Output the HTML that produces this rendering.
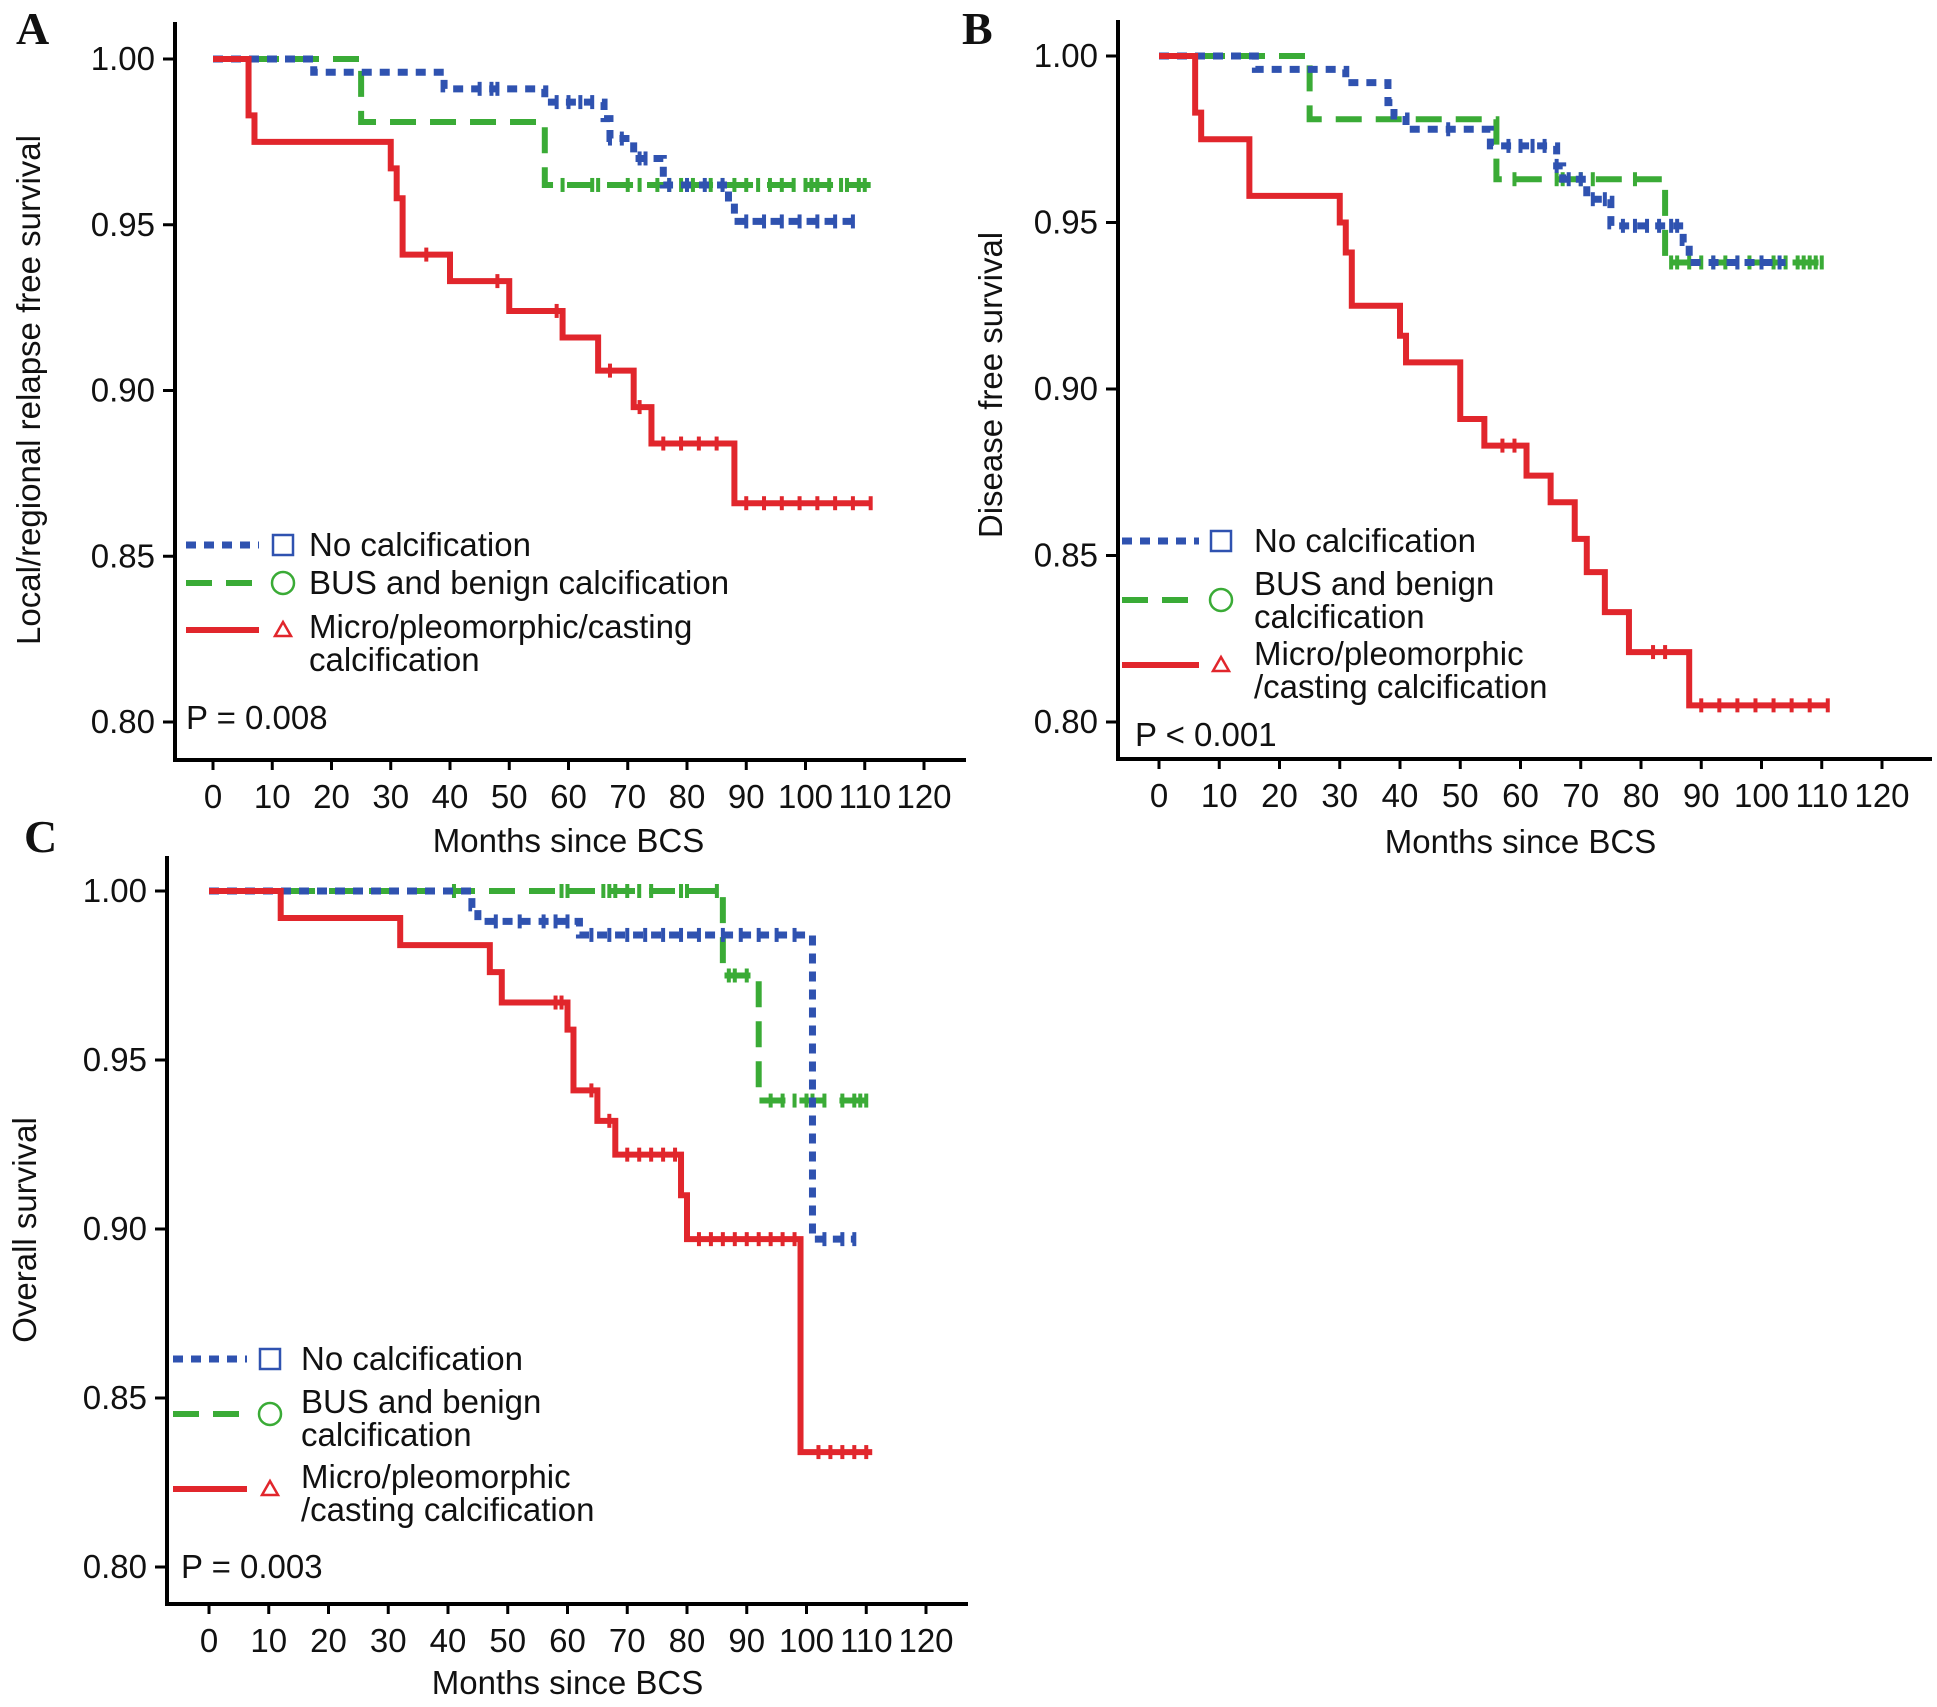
<!DOCTYPE html>
<html><head><meta charset="utf-8"><style>
html,body{margin:0;padding:0;background:#fff;}
svg{display:block;font-family:"Liberation Sans",Arial,sans-serif;}
</style></head><body>
<svg id="fig" width="1937" height="1707" viewBox="0 0 1937 1707"></svg>
<script>
// ---- Panel A data ----
const A_red_t=[0,6,7,30,31,32,40,50,59,65,71,74,88];
const A_red_s=[1,0.983,0.975,0.967,0.958,0.941,0.933,0.924,0.916,0.906,0.895,0.884,0.866];
const A_red_end=111;
const A_blue_t=[0,17,39,56,66,67,71,76,87,88];
const A_blue_s=[1,0.996,0.991,0.987,0.982,0.976,0.970,0.962,0.957,0.951];
const A_blue_end=108;
const A_green_t=[0,25,56];
const A_green_s=[1,0.981,0.962];
const A_green_end=111;
const A_red_c=[36,48,58,67,72,76,79,82,85,90,93,96,99,102,105,108,111];
const A_blue_c=[45,47,48,58,60,62,64,67,69,72,73,77,80,83,86,90,93,96,99,102,105,108];
const A_green_c=[59,64,65,70,72,75,77,79,81,84,86,88,90,92,94,96,98,100,101,102,104,106,107,109,110];
// ---- Panel B data ----
const B_red_t=[0,6,7,15,30,31,32,40,41,50,54,61,65,69,71,74,78,88];
const B_red_s=[1,0.983,0.975,0.958,0.950,0.941,0.925,0.916,0.908,0.891,0.883,0.874,0.866,0.855,0.845,0.833,0.821,0.805];
const B_red_end=111;
const B_blue_t=[0,16,31,38,39,41,55,66,67,71,75,87,88];
const B_blue_s=[1,0.996,0.992,0.986,0.982,0.978,0.973,0.967,0.963,0.957,0.949,0.944,0.938];
const B_blue_end=104;
const B_green_t=[0,25,56,84];
const B_green_s=[1,0.981,0.963,0.938];
const B_green_end=110;
const B_red_c=[57,59,82,84,90,93,96,99,102,105,108,111];
const B_blue_c=[48,58,60,62,64,66,68,70,72,74,77,79,81,83,85,86,92,96,100,103];
const B_green_c=[59,66,67,70,72,79,85,86,88,90,92,94,96,98,100,102,104,106,107,108,109,110];
// ---- Panel C data ----
const C_red_t=[0,12,32,47,49,60,61,65,68,79,80,99];
const C_red_s=[1,0.992,0.984,0.976,0.967,0.959,0.941,0.932,0.922,0.910,0.897,0.834];
const C_red_end=111;
const C_blue_t=[0,44,45,62,101];
const C_blue_s=[1,0.995,0.991,0.987,0.897];
const C_blue_end=108;
const C_green_t=[0,86,92];
const C_green_s=[1,0.975,0.938];
const C_green_end=110;
const C_red_c=[58,59,64,67,70,72,74,76,78,82,84,86,88,90,92,94,96,98,102,104,106,108,110];
const C_blue_c=[48,52,56,58,60,64,67,70,73,76,79,82,86,89,92,95,98,103,106,108];
const C_green_c=[41,59,60,66,67,68,70,72,74,79,80,85,87,88,90,94,96,98,100,101,103,106,108,109,110];
const xTicks=[0,10,20,30,40,50,60,70,80,90,100,110,120];
const yTicks=[1.00,0.95,0.90,0.85,0.80];

const NS="http://www.w3.org/2000/svg";
const svg=document.getElementById('fig');
const BLUE="#2f52b0",GREEN="#3aab36",RED="#e1262c";
const FS=33;
function mk(tag,attrs,parent){const e=document.createElementNS(NS,tag);for(const k in attrs)e.setAttribute(k,attrs[k]);(parent||svg).appendChild(e);return e;}

function panel(cfg){
  const g=mk('g',{});
  
  
  const xs=t=>cfg.x0+(t/120)*(cfg.x120-cfg.x0);
  const ys=v=>cfg.y1+(1-v)/0.2*(cfg.y08-cfg.y1);
  const ya=mk('line',{x1:cfg.ax,y1:cfg.atop,x2:cfg.ax,y2:cfg.ay+2,stroke:'#000','stroke-width':4},g);
  
  const xa=mk('line',{x1:cfg.ax-2,y1:cfg.ay,x2:cfg.aright,y2:cfg.ay,stroke:'#000','stroke-width':4},g);
  
  xTicks.forEach(t=>{
    mk('line',{x1:xs(t),y1:cfg.ay,x2:xs(t),y2:cfg.ay+10,stroke:'#000','stroke-width':3},g);
    const tx=mk('text',{x:xs(t),y:cfg.ay+48,'font-size':FS,'text-anchor':'middle',fill:'#111'},g);
    tx.textContent=t;
    
  });
  yTicks.forEach(v=>{
    mk('line',{x1:cfg.ax-12,y1:ys(v),x2:cfg.ax,y2:ys(v),stroke:'#000','stroke-width':3},g);
    const tx=mk('text',{x:cfg.ax-20,y:ys(v)+11,'font-size':FS,'text-anchor':'end',fill:'#111'},g);
    tx.textContent=v.toFixed(2);
    
  });
  const xt=mk('text',{x:(xs(0)+xs(120))/2,y:cfg.xtitleY,'font-size':FS,'text-anchor':'middle',fill:'#111'},g);
  xt.textContent='Months since BCS';
  
  const yt=mk('text',{x:0,y:0,'font-size':FS,'text-anchor':'middle',fill:'#111',transform:`translate(${cfg.ytitleX},${cfg.ytitleY}) rotate(-90)`},g);
  yt.textContent=cfg.ytitle;
  
  const lt=mk('text',{x:cfg.letterX,y:cfg.letterY,'font-size':46,'font-weight':'bold','font-family':'"Liberation Serif",serif',fill:'#111'},g);
  lt.textContent=cfg.id.toUpperCase();
  
  const styles={
    blue:{c:BLUE,w:7,d:'10,8'},
    green:{c:GREEN,w:6,d:'26,14'},
    red:{c:RED,w:6,d:'none'}
  };
  ['green','blue','red'].forEach(k=>{
    const s=cfg.series[k],st=styles[k];
    let d=`M${xs(s.t[0])},${ys(s.s[0])}`;
    for(let i=1;i<s.t.length;i++){d+=` H${xs(s.t[i])} V${ys(s.s[i])}`;}
    d+=` H${xs(s.end)}`;
    const p=mk('path',{d:d,fill:'none',stroke:st.c,'stroke-width':st.w,'stroke-dasharray':st.d},g);
    
    
    s.c.forEach(ct=>{
      let v=s.s[0];
      for(let i=0;i<s.t.length;i++){if(s.t[i]<=ct)v=s.s[i];}
      const m=mk('rect',{x:xs(ct)-2,y:ys(v)-7,width:4,height:14,fill:st.c},g);
      
      
    });
  });
  const L=cfg.legend;
  const items=[
    {k:'blue',y:L.y[0],lines:['No calcification'],ly:L.y[0]},
    {k:'green',y:L.y[1],lines:L.green,ly:L.ly[1]},
    {k:'red',y:L.y[2],lines:L.red,ly:L.ly[2]}
  ];
  items.forEach(it=>{
    const st=styles[it.k];
    const lg=mk('g',{},g);
    
    
    mk('line',{x1:L.x1,y1:it.ly,x2:L.x2,y2:it.ly,stroke:st.c,'stroke-width':st.w,'stroke-dasharray':st.d},lg);
    if(it.k==='blue')mk('rect',{x:L.mx-10,y:it.ly-10,width:20,height:20,fill:'none',stroke:st.c,'stroke-width':2.5},lg);
    if(it.k==='green')mk('circle',{cx:L.mx,cy:it.ly,r:11,fill:'none',stroke:st.c,'stroke-width':2.5},lg);
    if(it.k==='red')mk('path',{d:`M${L.mx-8},${it.ly+6} L${L.mx+8},${it.ly+6} L${L.mx},${it.ly-8} Z`,fill:'none',stroke:st.c,'stroke-width':2.5},lg);
    it.lines.forEach((ln,i)=>{
      const t=mk('text',{x:L.tx,y:it.y+11+i*33,'font-size':FS,fill:'#111'},lg);
      t.textContent=ln;
    });
  });
  const pt=mk('text',{x:cfg.px,y:cfg.py,'font-size':FS,fill:'#111'},g);
  pt.textContent=cfg.ptext;
  
}

panel({id:'a',x0:213,x120:924,y1:59,y08:722,ax:175,ay:760,atop:22,aright:966,xtitleY:852,
  ytitle:'Local/regional relapse free survival',ytitleX:40,ytitleY:390,letterX:16,letterY:44,
  series:{red:{t:A_red_t,s:A_red_s,end:A_red_end,c:A_red_c},blue:{t:A_blue_t,s:A_blue_s,end:A_blue_end,c:A_blue_c},green:{t:A_green_t,s:A_green_s,end:A_green_end,c:A_green_c}},
  legend:{x1:186,x2:259,mx:283,tx:309,y:[545,583,627],ly:[545,583,630],green:['BUS and benign calcification'],red:['Micro/pleomorphic/casting','calcification']},
  px:186,py:729,ptext:'P = 0.008'});
panel({id:'b',x0:1159,x120:1882,y1:56,y08:722,ax:1118,ay:759,atop:20,aright:1932,xtitleY:853,
  ytitle:'Disease free survival',ytitleX:1002,ytitleY:385,letterX:962,letterY:44,
  series:{red:{t:B_red_t,s:B_red_s,end:B_red_end,c:B_red_c},blue:{t:B_blue_t,s:B_blue_s,end:B_blue_end,c:B_blue_c},green:{t:B_green_t,s:B_green_s,end:B_green_end,c:B_green_c}},
  legend:{x1:1122,x2:1199,mx:1221,tx:1254,y:[541,584,654],ly:[541,600,665],green:['BUS and benign','calcification'],red:['Micro/pleomorphic','/casting calcification']},
  px:1135,py:746,ptext:'P < 0.001'});
panel({id:'c',x0:209,x120:926,y1:891,y08:1567,ax:167,ay:1604,atop:856,aright:968,xtitleY:1694,
  ytitle:'Overall survival',ytitleX:36,ytitleY:1230,letterX:24,letterY:852,
  series:{red:{t:C_red_t,s:C_red_s,end:C_red_end,c:C_red_c},blue:{t:C_blue_t,s:C_blue_s,end:C_blue_end,c:C_blue_c},green:{t:C_green_t,s:C_green_s,end:C_green_end,c:C_green_c}},
  legend:{x1:173,x2:247,mx:270,tx:301,y:[1359,1402,1477],ly:[1359,1414,1489],green:['BUS and benign','calcification'],red:['Micro/pleomorphic','/casting calcification']},
  px:181,py:1578,ptext:'P = 0.003'});
</script>
</body></html>
